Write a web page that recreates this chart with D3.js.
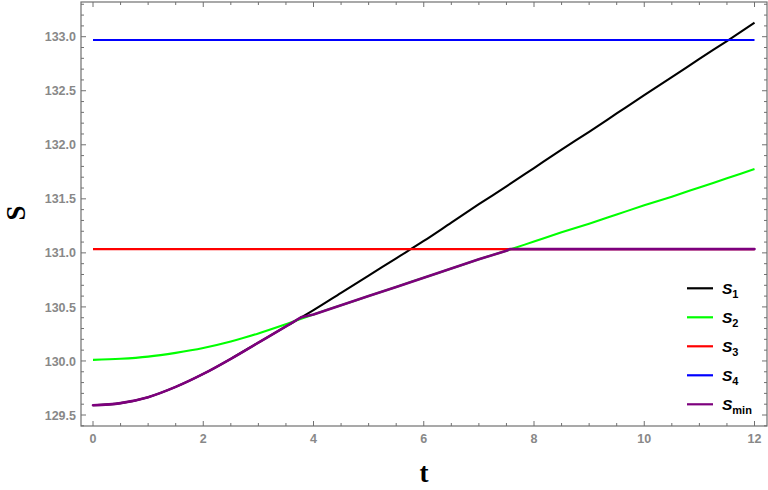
<!DOCTYPE html>
<html>
<head>
<meta charset="utf-8">
<script src="https://cdn.jsdelivr.net/npm/d3@7"></script>
<style>
  html, body { margin: 0; padding: 0; background: #fff; }
  svg { display: block; }
</style>
</head>
<body>
<svg id="chart" width="768" height="490"></svg>
<script>
// ---------- data ----------
const tValues = [0,0.5,1,1.5,2,2.5,3,3.5,4,4.5,5,5.5,6,6.5,7,7.5,8,8.5,9,9.5,10,10.5,11,11.5,12];
const s1 = [129.59,129.61,129.665,129.76,129.88,130.02,130.17,130.32,130.47,130.63,130.79,130.95,131.11,
            131.28,131.45,131.615,131.785,131.955,132.12,132.29,132.46,132.625,132.795,132.96,133.13];
const s2 = [130.01,130.02,130.04,130.075,130.12,130.18,130.255,130.34,130.43,130.515,130.60,130.685,130.77,
            130.855,130.94,131.02,131.105,131.19,131.27,131.355,131.44,131.52,131.605,131.69,131.775];
const s3 = tValues.map(() => 131.035);
const s4 = tValues.map(() => 132.97);
// S_min: curved part (follows S1) and straight part (follows S2, then S3)
const sminCurveT = [0,0.5,1,1.5,2,2.5,3,3.5,3.78];
const sminCurveV = [129.59,129.61,129.665,129.76,129.88,130.02,130.17,130.32,130.405];
const sminLineT = [3.78,4,4.5,5,5.5,6,6.5,7,7.5,7.56,12];
const sminLineV = [130.405,130.43,130.515,130.60,130.685,130.77,130.855,130.94,131.02,131.035,131.035];
const xTicks = [0,2,4,6,8,10,12];
const yTicks = [129.5,130.0,130.5,131.0,131.5,132.0,132.5,133.0];
const seriesNames = ["1","2","3","4","min"];
const seriesColors = ["#000000","#00ff00","#ff0000","#0000ff","#7d007d"];

// ---------- layout ----------
const svg = d3.select("#chart");
const frame = {left: 81, right: 767, top: 2, bottom: 426};
const x = d3.scaleLinear().domain([0, 12]).range([93, 754.5]);
const y = d3.scaleLinear().domain([129.5, 133]).range([415, 36.7]);

const frameColor = "#707070";
const labelColor = "#888888";

// frame
svg.append("rect")
  .attr("x", frame.left).attr("y", frame.top)
  .attr("width", frame.right - frame.left).attr("height", frame.bottom - frame.top)
  .attr("fill", "none").attr("stroke", frameColor).attr("stroke-width", 1.2);

// ticks
const majLen = 5, minLen = 3;
const xMinor = d3.range(0, 12.01, 0.5).filter(v => !xTicks.includes(v));
const yMinor = d3.range(129.4, 133.31, 0.1).map(v => Math.round(v*10)/10).filter(v => !yTicks.includes(v));
const tg = svg.append("g").attr("stroke", frameColor).attr("stroke-width", 1);
xTicks.forEach(v => {
  tg.append("line").attr("x1", x(v)).attr("x2", x(v)).attr("y1", frame.bottom).attr("y2", frame.bottom - majLen);
  tg.append("line").attr("x1", x(v)).attr("x2", x(v)).attr("y1", frame.top).attr("y2", frame.top + majLen);
});
xMinor.forEach(v => {
  tg.append("line").attr("x1", x(v)).attr("x2", x(v)).attr("y1", frame.bottom).attr("y2", frame.bottom - minLen);
  tg.append("line").attr("x1", x(v)).attr("x2", x(v)).attr("y1", frame.top).attr("y2", frame.top + minLen);
});
yTicks.forEach(v => {
  tg.append("line").attr("y1", y(v)).attr("y2", y(v)).attr("x1", frame.left).attr("x2", frame.left + majLen);
  tg.append("line").attr("y1", y(v)).attr("y2", y(v)).attr("x1", frame.right).attr("x2", frame.right - majLen);
});
yMinor.forEach(v => {
  tg.append("line").attr("y1", y(v)).attr("y2", y(v)).attr("x1", frame.left).attr("x2", frame.left + minLen);
  tg.append("line").attr("y1", y(v)).attr("y2", y(v)).attr("x1", frame.right).attr("x2", frame.right - minLen);
});

// tick labels
const lblFont = "'Liberation Sans', Arial, sans-serif";
svg.append("g").selectAll("text").data(xTicks).join("text")
  .attr("x", d => x(d)).attr("y", 443)
  .attr("text-anchor", "middle")
  .attr("font-family", lblFont).attr("font-size", 12.5).attr("font-weight", "bold")
  .attr("fill", labelColor).text(d => d);
svg.append("g").selectAll("text").data(yTicks).join("text")
  .attr("x", 76).attr("y", d => y(d) + 4.6)
  .attr("text-anchor", "end")
  .attr("font-family", lblFont).attr("font-size", 12.5).attr("font-weight", "bold")
  .attr("fill", labelColor).text(d => d.toFixed(1));

// axis titles
const serif = "'Liberation Serif', 'Times New Roman', serif";
svg.append("text").attr("x", 424).attr("y", 482)
  .attr("text-anchor", "middle").attr("font-family", serif)
  .attr("font-size", 27).attr("font-weight", "bold").attr("fill", "#000").text("t");
svg.append("text").attr("transform", "translate(25,213) rotate(-90)")
  .attr("text-anchor", "middle").attr("font-family", serif)
  .attr("font-size", 27).attr("font-weight", "bold").attr("fill", "#000").text("S");

// lines
svg.append("clipPath").attr("id", "clip").append("rect")
  .attr("x", frame.left).attr("y", frame.top)
  .attr("width", frame.right - frame.left).attr("height", frame.bottom - frame.top);
const smooth = d3.line().x(d => x(d[0])).y(d => y(d[1])).curve(d3.curveMonotoneX);
const straight = d3.line().x(d => x(d[0])).y(d => y(d[1])).curve(d3.curveLinear);
const plotG = svg.append("g").attr("clip-path", "url(#clip)");
const seriesData = [
  tValues.map((t,i) => [t, s1[i]]),
  tValues.map((t,i) => [t, s2[i]]),
  tValues.map((t,i) => [t, s3[i]]),
  tValues.map((t,i) => [t, s4[i]])
];
seriesData.forEach((d, i) => {
  plotG.append("path").datum(d)
    .attr("fill", "none").attr("stroke", seriesColors[i])
    .attr("stroke-width", 2.1)
    .attr("stroke-linejoin", "round")
    .attr("d", smooth);
});
const sminG = plotG.append("g").attr("fill", "none").attr("stroke", seriesColors[4])
  .attr("stroke-width", 2.6).attr("stroke-linejoin", "round").attr("stroke-linecap", "round");
sminG.append("path").datum(sminCurveT.map((t,i) => [t, sminCurveV[i]])).attr("d", smooth);
sminG.append("path").datum(sminLineT.map((t,i) => [t, sminLineV[i]])).attr("d", straight);

// legend
const legG = svg.append("g");
seriesNames.forEach((n, i) => {
  const ly = 288.3 + i * 29;
  legG.append("line").attr("x1", 687).attr("x2", 713).attr("y1", ly).attr("y2", ly)
    .attr("stroke", seriesColors[i]).attr("stroke-width", 2.2);
  const tx = legG.append("text").attr("x", 722).attr("y", ly + 5.8)
    .attr("font-family", lblFont).attr("font-weight", "bold").attr("fill", "#000");
  tx.append("tspan").attr("font-size", 15.5).attr("font-style", "italic").text("S");
  tx.append("tspan").attr("font-size", 11).attr("dy", 3.5).text(n);
});
</script>
</body>
</html>
